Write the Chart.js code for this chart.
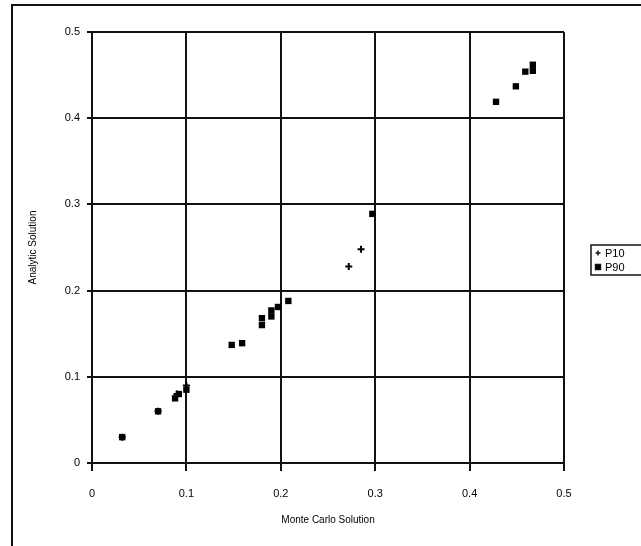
<!DOCTYPE html>
<html>
<head>
<meta charset="utf-8">
<script src="https://cdn.jsdelivr.net/npm/chart.js@4"></script>
<style>
  html, body { margin: 0; padding: 0; background: #fff; }
  #wrap { width: 641px; height: 546px; }
</style>
</head>
<body>
<div id="wrap"><canvas id="chart" width="641" height="546"></canvas></div>
<script>
// Values
const tickValues = [0, 0.1, 0.2, 0.3, 0.4, 0.5];

const p10X = [0.032, 0.07, 0.09, 0.1, 0.272, 0.285];
const p10Y = [0.03, 0.06, 0.08, 0.09, 0.228, 0.248];

const p90X = [0.032, 0.07, 0.088, 0.092, 0.1, 0.148, 0.159, 0.18, 0.18, 0.19, 0.19, 0.197, 0.208, 0.297, 0.428, 0.449, 0.459, 0.467, 0.467];
const p90Y = [0.03, 0.06, 0.075, 0.08, 0.085, 0.137, 0.139, 0.16, 0.168, 0.17, 0.177, 0.181, 0.188, 0.289, 0.419, 0.437, 0.454, 0.462, 0.455];

const toPoints = (xs, ys) => xs.map((x, i) => ({ x: x, y: ys[i] }));

const FONT = "'Liberation Sans', Arial, sans-serif";

// Outer frame of the chart (cut off at right and bottom like the original)
const framePlugin = {
  id: "frame",
  beforeDraw(chart) {
    const ctx = chart.ctx;
    ctx.save();
    ctx.strokeStyle = "#111";
    ctx.lineWidth = 2;
    ctx.strokeRect(12, 5, chart.width + 20, chart.height + 20);
    ctx.restore();
  }
};

// Boxed legend at the right, also clipped by the canvas edge
const boxLegendPlugin = {
  id: "boxLegend",
  afterDraw(chart) {
    const ctx = chart.ctx;
    const left = 591, top = 245;
    ctx.save();
    ctx.strokeStyle = "#111";
    ctx.lineWidth = 1.5;
    ctx.strokeRect(left, top, 100, 30);
    ctx.font = "11px " + FONT;
    ctx.textBaseline = "middle";
    ctx.fillStyle = "#000";
    chart.data.datasets.forEach((ds, i) => {
      const y = top + 8 + i * 14;
      Chart.helpers.drawPoint(ctx, {
        pointStyle: ds.pointStyle,
        radius: ds.pointStyle === "cross" ? 2.5 : 3.5,
        rotation: 0,
        borderWidth: 1.5
      }, left + 7, y);
      ctx.fillStyle = "#000";
      ctx.fillText(ds.label, left + 14, y + 1);
    });
    ctx.restore();
  }
};

const ctx = document.getElementById("chart").getContext("2d");

new Chart(ctx, {
  type: "scatter",
  data: {
    datasets: [
      {
        label: "P10",
        data: toPoints(p10X, p10Y),
        pointStyle: "cross",
        pointRadius: 3.5,
        pointBorderWidth: 2,
        borderColor: "#000",
        backgroundColor: "#000"
      },
      {
        label: "P90",
        data: toPoints(p90X, p90Y),
        pointStyle: "rect",
        pointRadius: 4.5,
        pointBorderWidth: 0,
        borderColor: "#000",
        backgroundColor: "#000"
      }
    ]
  },
  options: {
    responsive: false,
    animation: false,
    layout: { padding: { left: 22, top: 32, right: 77, bottom: 16 } },
    plugins: {
      legend: { display: false },
      tooltip: { enabled: false }
    },
    scales: {
      x: {
        type: "linear",
        min: 0,
        max: 0.5,
        afterBuildTicks: (scale) => { scale.ticks = tickValues.map((v) => ({ value: v })); },
        afterFit: (scale) => { scale.height = 67; },
        grid: { color: "#111", lineWidth: 2, tickLength: 8, drawTicks: true },
        border: { color: "#111", width: 2 },
        ticks: {
          color: "#000",
          padding: 16,
          maxRotation: 0,
          font: { family: FONT, size: 11 },
          callback: (v) => String(Math.round(v * 10) / 10)
        },
        title: {
          display: true,
          text: "Monte Carlo Solution",
          color: "#000",
          font: { family: FONT, size: 10 },
          padding: { top: 4, bottom: 4 }
        }
      },
      y: {
        type: "linear",
        min: 0,
        max: 0.5,
        afterBuildTicks: (scale) => { scale.ticks = tickValues.map((v) => ({ value: v })); },
        afterFit: (scale) => { scale.width = 70; },
        grid: { color: "#111", lineWidth: 2, tickLength: 5, drawTicks: true },
        border: { color: "#111", width: 2 },
        ticks: {
          color: "#000",
          padding: 7,
          font: { family: FONT, size: 11 },
          callback: (v) => String(Math.round(v * 10) / 10)
        },
        title: {
          display: true,
          text: "Analytic Solution",
          color: "#000",
          font: { family: FONT, size: 10 },
          padding: { top: 5, bottom: 4 }
        }
      }
    }
  },
  plugins: [framePlugin, boxLegendPlugin]
});
</script>
</body>
</html>
